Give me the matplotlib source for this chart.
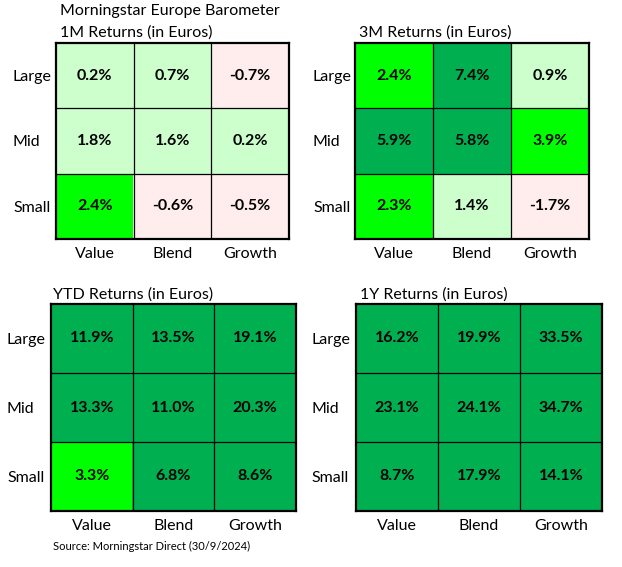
import numpy as np
import matplotlib
matplotlib.use("Agg")
import matplotlib.pyplot as plt
import matplotlib.transforms as mtransforms
from matplotlib.colors import ListedColormap, BoundaryNorm

plt.rcParams['font.family'] = ['Lato', 'DejaVu Sans']

rows = ["Large", "Mid", "Small"]
cols = ["Value", "Blend", "Growth"]

ret_1m = [[0.2, 0.7, -0.7],
          [1.8, 1.6, 0.2],
          [2.4, -0.6, -0.5]]
ret_3m = [[2.4, 7.4, 0.9],
          [5.9, 5.8, 3.9],
          [2.3, 1.4, -1.7]]
ret_ytd = [[11.9, 13.5, 19.1],
           [13.3, 11.0, 20.3],
           [3.3, 6.8, 8.6]]
ret_1y = [[16.2, 19.9, 33.5],
          [23.1, 24.1, 34.7],
          [8.7, 17.9, 14.1]]

titles = ["1M Returns (in Euros)", "3M Returns (in Euros)",
          "YTD Returns (in Euros)", "1Y Returns (in Euros)"]

# colour bands: negative / 0-2% / 2-5% / above 5%
cmap = ListedColormap(["#FFECEC", "#CCFFCC", "#00FF00", "#00B050"])
norm = BoundaryNorm([-100, 0, 2, 5, 100], cmap.N)

W, H = 622, 567
fig = plt.figure(figsize=(W / 100, H / 100), dpi=100)

# panel boxes in pixels: left, top, right, bottom
boxes = [(56, 43, 289, 239), (355, 43, 589, 239),
         (51, 304, 296, 511), (356, 304, 602, 511)]
title_pos = [(60, 33), (359, 33), (53, 295), (360, 295)]
label_x = [13, 313, 7, 311]

for data, title, box, tpos, lx in zip([ret_1m, ret_3m, ret_ytd, ret_1y], titles,
                                      boxes, title_pos, label_x):
    l, t, r, b = box
    ax = fig.add_axes([l / W, 1 - b / H, (r - l) / W, (b - t) / H])
    arr = np.array(data)
    ax.imshow(arr, cmap=cmap, norm=norm, aspect="auto",
              extent=(-0.5, 2.5, 2.5, -0.5), interpolation="nearest")
    for i in range(3):
        for j in range(3):
            ax.text(j, i, f"{arr[i, j]:.1f}%", ha="center", va="center",
                    fontsize=11.5, fontweight="bold", color="black")
    for k in [0.5, 1.5]:
        ax.axhline(k, color="black", lw=0.9)
        ax.axvline(k, color="black", lw=0.9)
    for s in ax.spines.values():
        s.set_linewidth(1.6)
    ax.set_xticks(range(3))
    ax.set_xticklabels(cols, fontsize=11.5)
    ax.set_yticks([])
    ax.tick_params(length=0, pad=6)
    # left-aligned row labels
    trans = mtransforms.blended_transform_factory(ax.transAxes, ax.transData)
    for i, name in enumerate(rows):
        ax.text((lx - l) / (r - l), i, name, transform=trans, ha="left",
                va="center_baseline", fontsize=11.5, clip_on=False)
    fig.text(tpos[0] / W, 1 - tpos[1] / H, title, fontsize=11.5, va="center", ha="left")

fig.text(60 / W, 1 - 11 / H, "Morningstar Europe Barometer", fontsize=11.5, va="center", ha="left")
fig.text(53 / W, 1 - 546 / H, "Source: Morningstar Direct (30/9/2024)", fontsize=8,
         va="center", ha="left")

fig.savefig("out.png", dpi=100, facecolor="white")
